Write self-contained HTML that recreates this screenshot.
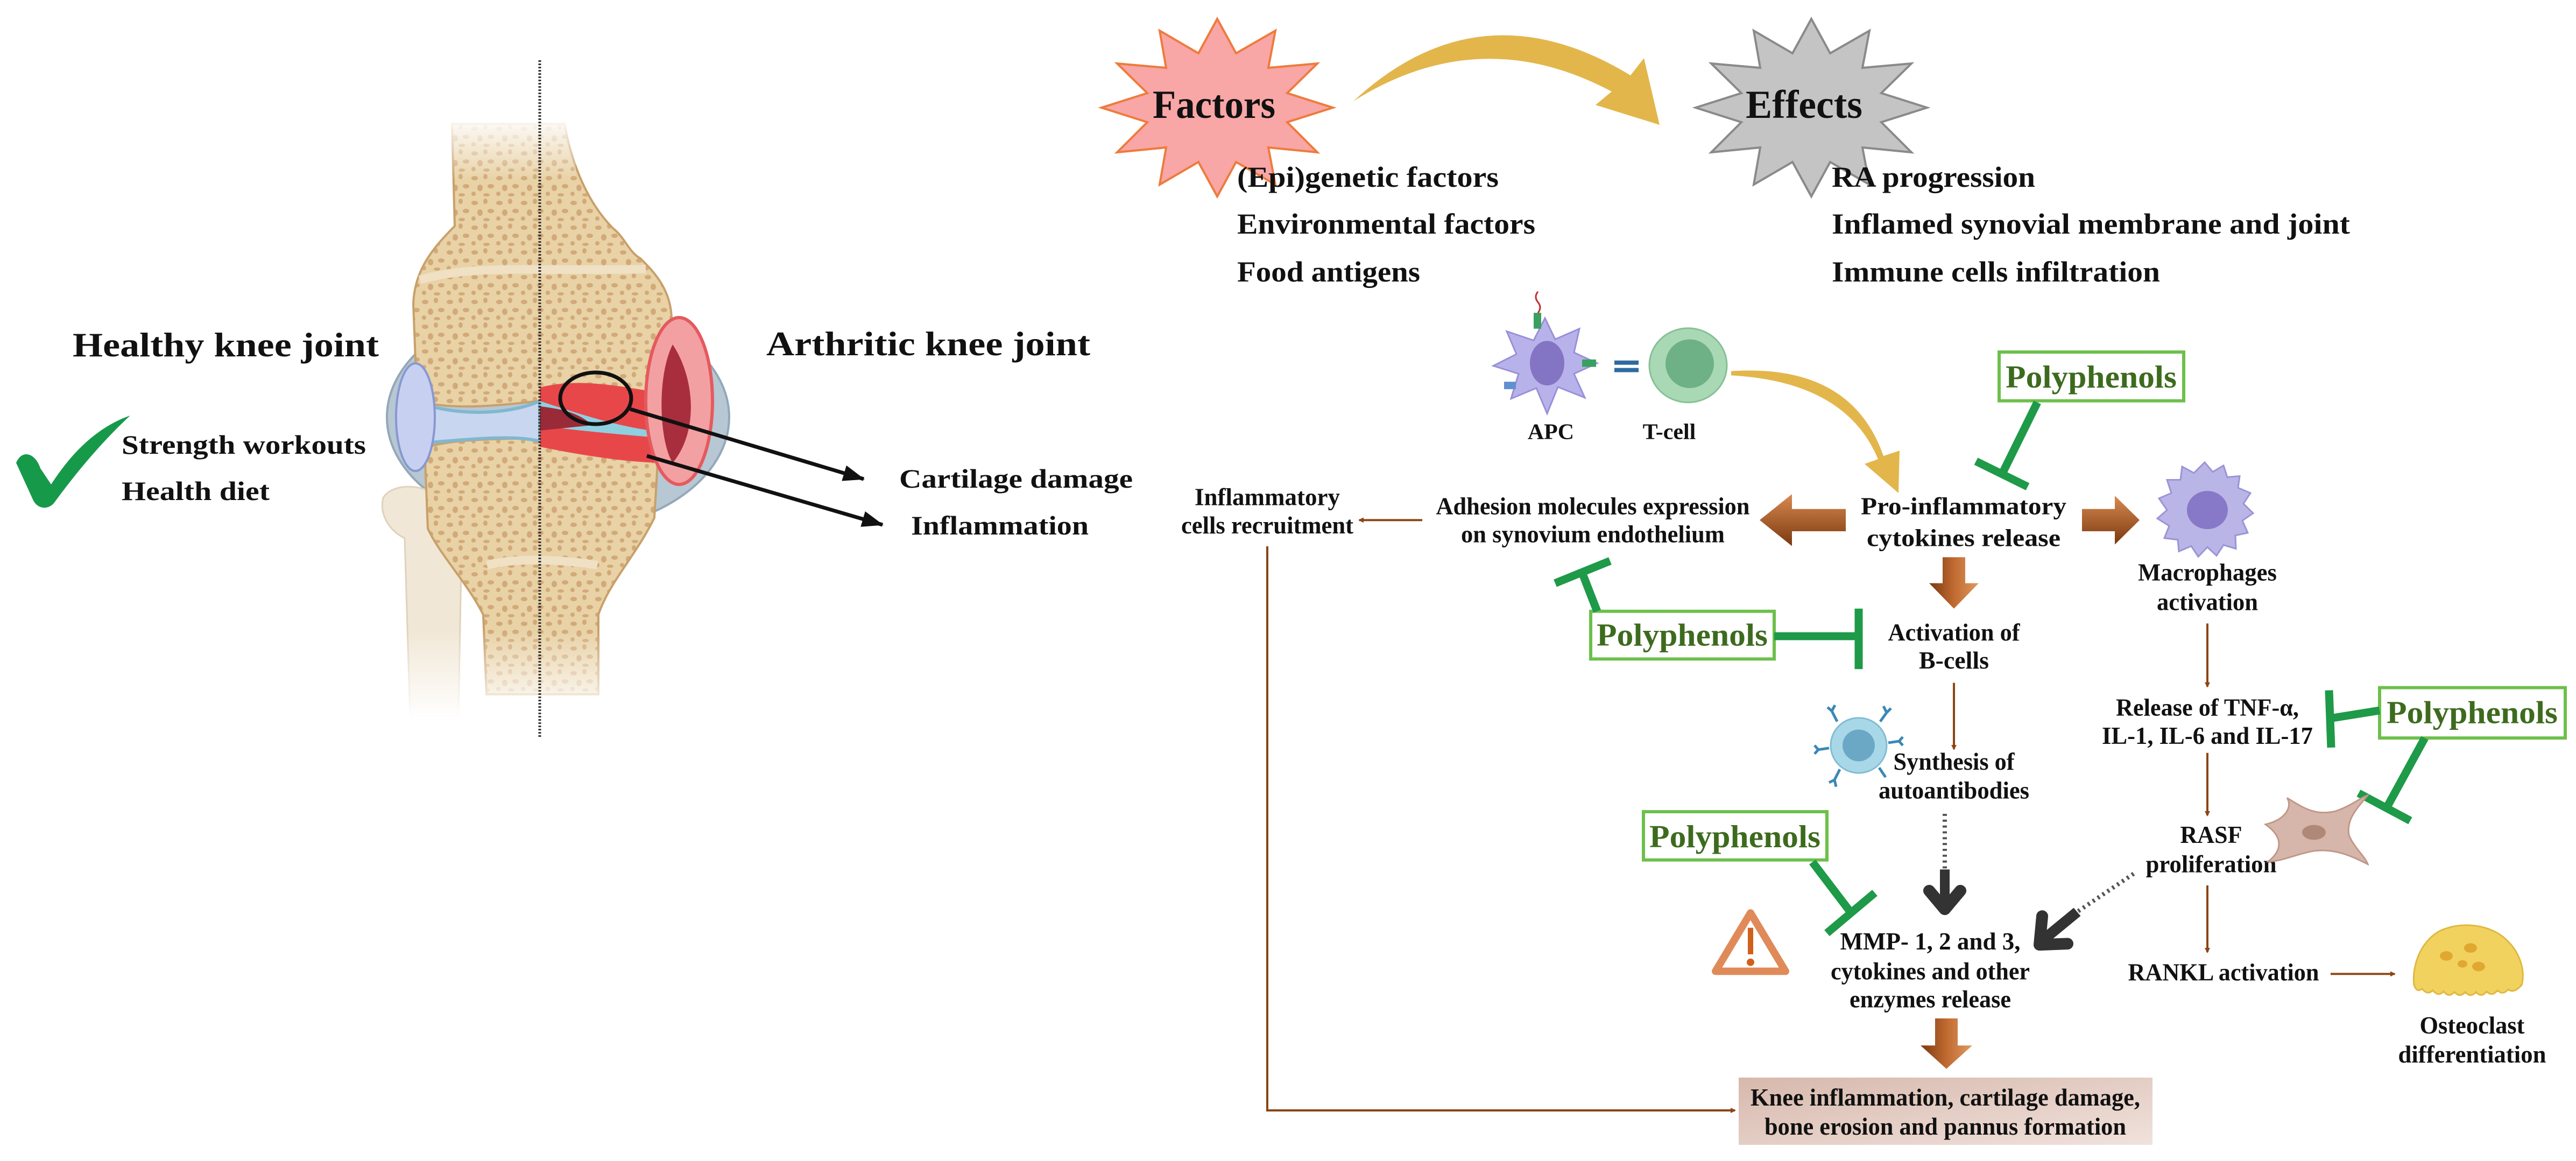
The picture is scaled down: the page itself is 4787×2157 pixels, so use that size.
<!DOCTYPE html>
<html><head><meta charset="utf-8"><style>
html,body{margin:0;padding:0;background:#fff;}
svg{display:block;}
text{font-family:"Liberation Serif",serif;font-weight:bold;fill:#111;}
.g{fill:#3d6b1e;}
</style></head><body>
<svg width="4787" height="2157" viewBox="0 0 4787 2157" xmlns="http://www.w3.org/2000/svg">
<defs>
<pattern id="dots" width="46" height="46" patternUnits="userSpaceOnUse">
<rect width="46" height="46" fill="#e8d2a6"/>
<ellipse cx="8" cy="9" rx="6" ry="4" fill="#d2a978"/>
<ellipse cx="28" cy="6" rx="4" ry="5" fill="#d2a978"/>
<ellipse cx="38" cy="24" rx="6" ry="4" fill="#d2a978"/>
<ellipse cx="18" cy="27" rx="5" ry="6" fill="#d2a978"/>
<ellipse cx="6" cy="38" rx="4" ry="4" fill="#d2a978"/>
<ellipse cx="30" cy="40" rx="6" ry="3" fill="#d2a978"/>
</pattern>
<linearGradient id="fadeTop" x1="0" y1="0" x2="0" y2="1"><stop offset="0" stop-color="#fff" stop-opacity="1"/><stop offset="1" stop-color="#fff" stop-opacity="0"/></linearGradient>
<linearGradient id="fadeBot" x1="0" y1="0" x2="0" y2="1"><stop offset="0" stop-color="#fff" stop-opacity="0"/><stop offset="1" stop-color="#fff" stop-opacity="1"/></linearGradient>
<linearGradient id="brH" x1="0" y1="0" x2="0" y2="1"><stop offset="0" stop-color="#d88a50"/><stop offset="1" stop-color="#7a3810"/></linearGradient>
<linearGradient id="brV" x1="0" y1="0" x2="1" y2="0"><stop offset="0" stop-color="#7a3810"/><stop offset="0.5" stop-color="#c06a30"/><stop offset="1" stop-color="#e09a60"/></linearGradient>
<linearGradient id="boxg" x1="0" y1="0" x2="1" y2="1"><stop offset="0" stop-color="#d7b8ac"/><stop offset="1" stop-color="#f0e2dc"/></linearGradient>
<marker id="ab" markerWidth="10" markerHeight="10" refX="8" refY="5" orient="auto" markerUnits="userSpaceOnUse" viewBox="0 0 10 10"><path d="M0,0 L10,5 L0,10 Z" fill="#8b4513"/></marker>
<marker id="ak" markerWidth="40" markerHeight="30" refX="38" refY="15" orient="auto" markerUnits="userSpaceOnUse"><path d="M0,0 L40,15 L0,30 Z" fill="#111"/></marker>
</defs>

<!-- ===== KNEE ===== -->
<ellipse cx="1037" cy="775" rx="318" ry="212" fill="#b7c7d3" stroke="#93a8b8" stroke-width="4"/>
<path d="M712,925 C730,895 795,898 822,930 L858,1000 L852,1330 L762,1330 L752,1000 C722,985 705,955 712,925 Z" fill="#f1e7d6" stroke="#e0d2bc" stroke-width="3"/>
<path d="M840,230 L845,420 C800,465 770,505 768,565 L775,745 C850,765 950,750 1003,745 C1080,738 1180,765 1242,750 L1248,600 C1250,540 1215,505 1190,480 C1170,470 1160,440 1140,425 C1100,385 1065,320 1049,230 Z" fill="url(#dots)" stroke="#c9a06a" stroke-width="4"/>
<path d="M780,520 C880,490 1000,505 1200,500" fill="none" stroke="#f0e0c4" stroke-width="16"/>
<path d="M789,832 C850,812 950,818 1003,812 C1080,806 1180,832 1224,826 L1216,962 C1182,1032 1132,1082 1112,1142 L1112,1290 L904,1290 L898,1142 C868,1082 818,1032 795,982 Z" fill="url(#dots)" stroke="#c9a06a" stroke-width="4"/>
<path d="M905,1050 C960,1035 1050,1040 1110,1050" fill="none" stroke="#f0e0c4" stroke-width="16"/>
<path d="M800,755 C880,775 960,765 1003,745 L1003,820 C960,808 880,815 800,822 Z" fill="#c9d6f0" stroke="#7fb8d0" stroke-width="6"/>
<ellipse cx="772" cy="775" rx="36" ry="100" fill="#c8d0f2" stroke="#8898d0" stroke-width="4"/>
<path d="M1003,720 C1080,700 1160,720 1230,730 L1240,860 C1180,860 1100,850 1003,830 Z" fill="#e8474a"/>
<path d="M1003,745 C1080,770 1140,790 1210,800 L1210,812 C1130,805 1070,800 1003,790 Z" fill="#8ed0e0"/>
<path d="M1003,755 C1050,760 1080,770 1100,790 L1003,800 Z" fill="#9a2a38"/>
<ellipse cx="1262" cy="745" rx="62" ry="155" fill="#f3a0a2" stroke="#e45a5e" stroke-width="6"/>
<path d="M1250,640 C1290,700 1300,800 1250,860 C1225,820 1220,700 1250,640 Z" fill="#a82e3e"/>
<rect x="690" y="215" width="380" height="120" fill="url(#fadeTop)"/>
<rect x="690" y="1170" width="440" height="165" fill="url(#fadeBot)"/>
<line x1="1003" y1="112" x2="1003" y2="1370" stroke="#333" stroke-width="5" stroke-dasharray="3 3"/>
<ellipse cx="1107" cy="740" rx="66" ry="48" fill="none" stroke="#111" stroke-width="7"/>
<line x1="1171" y1="760" x2="1605" y2="890" stroke="#111" stroke-width="7" marker-end="url(#ak)"/>
<line x1="1202" y1="847" x2="1640" y2="975" stroke="#111" stroke-width="7" marker-end="url(#ak)"/>
<path d="M30,860 C40,835 65,840 75,870 L95,900 C140,830 190,790 242,772 C190,820 140,880 100,935 C88,948 70,945 62,930 Z" fill="#17994a"/>

<text x="135" y="662" font-size="64" textLength="569" lengthAdjust="spacingAndGlyphs">Healthy knee joint</text>
<text x="1424" y="660" font-size="64" textLength="602" lengthAdjust="spacingAndGlyphs">Arthritic knee joint</text>
<text x="226" y="843" font-size="50" textLength="454" lengthAdjust="spacingAndGlyphs">Strength workouts</text>
<text x="226" y="929" font-size="50" textLength="275" lengthAdjust="spacingAndGlyphs">Health diet</text>
<text x="1671" y="906" font-size="50" textLength="434" lengthAdjust="spacingAndGlyphs">Cartilage damage</text>
<text x="1693" y="993" font-size="50" textLength="330" lengthAdjust="spacingAndGlyphs">Inflammation</text>

<!-- ===== TOP ===== -->
<polygon points="2477,200 2392,227 2448,283 2357,274 2370,343 2297,301 2262,365 2227,301 2155,343 2167,274 2076,283 2132,227 2047,200 2132,173 2076,118 2167,126 2155,57 2227,99 2262,35 2297,99 2370,57 2357,126 2448,118 2392,173" fill="#f8a6a6" stroke="#ee7b3c" stroke-width="4"/>
<polygon transform="translate(1104,0)" points="2477,200 2392,227 2448,283 2357,274 2370,343 2297,301 2262,365 2227,301 2155,343 2167,274 2076,283 2132,227 2047,200 2132,173 2076,118 2167,126 2155,57 2227,99 2262,35 2297,99 2370,57 2357,126 2448,118 2392,173" fill="#c4c4c4" stroke="#8a8a8a" stroke-width="4"/>
<text x="2142" y="219" font-size="74" textLength="228" lengthAdjust="spacingAndGlyphs">Factors</text>
<text x="3244" y="219" font-size="74" textLength="217" lengthAdjust="spacingAndGlyphs">Effects</text>
<path d="M2515,188 Q2750,-30 3030,140 L3055,108 L3084,232 L2965,195 L2995,170 Q2750,40 2515,188 Z" fill="#e3b64c"/>

<text x="2299" y="347" font-size="54" textLength="486" lengthAdjust="spacingAndGlyphs">(Epi)genetic factors</text>
<text x="2299" y="434" font-size="54" textLength="554" lengthAdjust="spacingAndGlyphs">Environmental factors</text>
<text x="2299" y="523" font-size="54" textLength="340" lengthAdjust="spacingAndGlyphs">Food antigens</text>
<text x="3404" y="347" font-size="54" textLength="378" lengthAdjust="spacingAndGlyphs">RA progression</text>
<text x="3404" y="434" font-size="54" textLength="963" lengthAdjust="spacingAndGlyphs">Inflamed synovial membrane and joint</text>
<text x="3404" y="523" font-size="54" textLength="610" lengthAdjust="spacingAndGlyphs">Immune cells infiltration</text>

<g transform="matrix(1,0,0,0.985,0,0)">
<path d="M2871,600 L2890,640 L2935,620 L2925,665 L2968,685 L2925,705 L2945,750 L2895,730 L2875,780 L2855,732 L2808,752 L2822,705 L2775,690 L2818,668 L2800,625 L2850,642 Z" fill="#b8b2ea" stroke="#9890d8" stroke-width="3"/>
<ellipse cx="2875" cy="685" rx="32" ry="42" fill="#8474c4"/>
<rect x="2850" y="590" width="14" height="30" fill="#3aa060"/><path d="M2858,590 q8,-10 0,-20 q-8,-10 0,-20" fill="none" stroke="#c03030" stroke-width="3"/>
<rect x="2940" y="678" width="26" height="14" fill="#3aa060"/>
<rect x="2795" y="720" width="22" height="14" fill="#6090d0"/>
<rect x="3000" y="680" width="45" height="8" fill="#2e6aa0"/><rect x="3000" y="694" width="45" height="8" fill="#2e6aa0"/>
<ellipse cx="3137" cy="689" rx="72" ry="70" fill="#a9d9b4" stroke="#86c096" stroke-width="3"/>
<ellipse cx="3140" cy="686" rx="45" ry="46" fill="#6fb187"/>
<text x="2882" y="828" font-size="42" text-anchor="middle">APC</text>
<text x="3102" y="828" font-size="42" text-anchor="middle">T-cell</text>
<path d="M3217,700 Q3440,685 3500,860 L3530,850 L3528,930 L3465,875 L3490,866 Q3430,720 3217,708 Z" fill="#e3b64c"/>

<g stroke="#6cc04a" stroke-width="6" fill="#fff">
<rect x="3715" y="664" width="343" height="92"/>
<rect x="2956" y="1153" width="341" height="90"/>
<rect x="4422" y="1297" width="345" height="95"/>
<rect x="3054" y="1531" width="341" height="91"/>
</g>
<text class="g" x="3886" y="731" font-size="60" text-anchor="middle" textLength="318" lengthAdjust="spacingAndGlyphs">Polyphenols</text>
<text class="g" x="3126" y="1218" font-size="60" text-anchor="middle" textLength="318" lengthAdjust="spacingAndGlyphs">Polyphenols</text>
<text class="g" x="4594" y="1364" font-size="60" text-anchor="middle" textLength="318" lengthAdjust="spacingAndGlyphs">Polyphenols</text>
<text class="g" x="3224" y="1598" font-size="60" text-anchor="middle" textLength="318" lengthAdjust="spacingAndGlyphs">Polyphenols</text>

<g stroke="#1e9a48" stroke-width="15" fill="none">
<line x1="3786" y1="759" x2="3720" y2="895"/><line x1="3672" y1="870" x2="3768" y2="918"/>
<line x1="2968" y1="1153" x2="2940" y2="1080"/><line x1="2890" y1="1100" x2="2992" y2="1058"/>
<line x1="3297" y1="1200" x2="3454" y2="1200"/><line x1="3454" y1="1148" x2="3454" y2="1262"/>
<line x1="4422" y1="1340" x2="4330" y2="1355"/><line x1="4328" y1="1302" x2="4332" y2="1410"/>
<line x1="4506" y1="1392" x2="4436" y2="1522"/><line x1="4383" y1="1496" x2="4479" y2="1548"/>
<line x1="3368" y1="1626" x2="3440" y2="1722"/><line x1="3395" y1="1760" x2="3484" y2="1684"/>
</g>

<g font-size="46" text-anchor="middle">
<text x="3649" y="970" textLength="382" lengthAdjust="spacingAndGlyphs">Pro-inflammatory</text>
<text x="3649" y="1030" textLength="360" lengthAdjust="spacingAndGlyphs">cytokines release</text>
<text x="2960" y="970" textLength="583" lengthAdjust="spacingAndGlyphs">Adhesion molecules expression</text>
<text x="2960" y="1023" textLength="490" lengthAdjust="spacingAndGlyphs">on synovium endothelium</text>
<text x="2355" y="953" textLength="270" lengthAdjust="spacingAndGlyphs">Inflammatory</text>
<text x="2355" y="1006" textLength="320" lengthAdjust="spacingAndGlyphs">cells recruitment</text>
<text x="4102" y="1095" textLength="258" lengthAdjust="spacingAndGlyphs">Macrophages</text>
<text x="4102" y="1151" textLength="188" lengthAdjust="spacingAndGlyphs">activation</text>
<text x="3631" y="1208" textLength="245" lengthAdjust="spacingAndGlyphs">Activation of</text>
<text x="3631" y="1261" textLength="130" lengthAdjust="spacingAndGlyphs">B-cells</text>
<text x="3631" y="1452" textLength="225" lengthAdjust="spacingAndGlyphs">Synthesis of</text>
<text x="3631" y="1506" textLength="280" lengthAdjust="spacingAndGlyphs">autoantibodies</text>
<text x="4102" y="1350" textLength="340" lengthAdjust="spacingAndGlyphs">Release of TNF-α,</text>
<text x="4102" y="1403" textLength="392" lengthAdjust="spacingAndGlyphs">IL-1, IL-6 and IL-17</text>
<text x="4109" y="1590" textLength="115" lengthAdjust="spacingAndGlyphs">RASF</text>
<text x="4109" y="1645" textLength="243" lengthAdjust="spacingAndGlyphs">proliferation</text>
<text x="4132" y="1849" textLength="355" lengthAdjust="spacingAndGlyphs">RANKL activation</text>
<text x="4594" y="1949" textLength="195" lengthAdjust="spacingAndGlyphs">Osteoclast</text>
<text x="4594" y="2004" textLength="275" lengthAdjust="spacingAndGlyphs">differentiation</text>
<text x="3587" y="1791" textLength="335" lengthAdjust="spacingAndGlyphs">MMP- 1, 2 and 3,</text>
<text x="3587" y="1847" textLength="370" lengthAdjust="spacingAndGlyphs">cytokines and other</text>
<text x="3587" y="1900" textLength="300" lengthAdjust="spacingAndGlyphs">enzymes release</text>
</g>

<path d="M3430,960 L3330,960 L3330,932 L3270,981 L3330,1030 L3330,1002 L3430,1002 Z" fill="url(#brH)"/>
<path d="M3869,960 L3930,960 L3930,935 L3976,981 L3930,1027 L3930,1002 L3869,1002 Z" fill="url(#brH)"/>
<path d="M3610,1051 L3652,1051 L3652,1100 L3677,1100 L3631,1148 L3585,1100 L3610,1100 Z" fill="url(#brV)"/>
<path d="M3596,1921 L3638,1921 L3638,1972 L3665,1972 L3617,2016 L3569,1972 L3596,1972 Z" fill="url(#brV)"/>

<g stroke="#8b4513" stroke-width="4" fill="none" marker-end="url(#ab)">
<line x1="2643" y1="981" x2="2526" y2="981"/>
<line x1="4102" y1="1176" x2="4102" y2="1295"/>
<line x1="4102" y1="1420" x2="4102" y2="1538"/>
<line x1="4102" y1="1670" x2="4102" y2="1796"/>
<line x1="4331" y1="1837" x2="4450" y2="1837"/>
<line x1="3631" y1="1288" x2="3631" y2="1413"/>
</g>

<line x1="3614" y1="1535" x2="3614" y2="1640" stroke="#555" stroke-width="8" stroke-dasharray="4 7"/>
<line x1="3614" y1="1640" x2="3614" y2="1700" stroke="#333" stroke-width="18"/>
<polyline points="3585,1680 3614,1715 3643,1680" fill="none" stroke="#333" stroke-width="22" stroke-linejoin="round" stroke-linecap="round"/>
<line x1="3965" y1="1648" x2="3860" y2="1720" stroke="#555" stroke-width="8" stroke-dasharray="4 7"/>
<line x1="3860" y1="1720" x2="3800" y2="1770" stroke="#333" stroke-width="20"/>
<polyline points="3795,1728 3790,1782 3842,1780" fill="none" stroke="#333" stroke-width="22" stroke-linejoin="round" stroke-linecap="round"/>

<path d="M3253,1722 L3318,1832 L3188,1832 Z" fill="#fff" stroke="#e08a5a" stroke-width="14" stroke-linejoin="round"/>
<rect x="3248" y="1750" width="10" height="50" fill="#d0601c"/><circle cx="3253" cy="1815" r="7" fill="#d0601c"/>

<g transform="translate(4097,960)">
<path d="M0,-88 L15,-70 L35,-82 L42,-60 L65,-62 L62,-40 L85,-30 L72,-10 L90,8 L70,22 L80,45 L57,50 L58,75 L35,68 L22,88 L5,72 L-12,90 L-25,70 L-48,80 L-50,58 L-75,55 L-66,32 L-88,18 L-70,2 L-85,-20 L-62,-30 L-70,-55 L-45,-55 L-42,-80 L-20,-68 Z" fill="#b9b5e6" stroke="#9a94d6" stroke-width="3"/>
<ellipse cx="5" cy="2" rx="38" ry="36" fill="#8878c8"/>
</g>
<g transform="translate(3454,1406)">
<circle r="52" fill="#a8d8e8" stroke="#82bcd4" stroke-width="3"/>
<circle r="30" fill="#6aa8c6"/>
<g stroke="#3a88b8" stroke-width="5" fill="none">
<path d="M-40,-45 L-50,-65 M-50,-65 L-58,-72 M-50,-65 L-44,-76"/>
<path d="M40,-45 L52,-62 M52,-62 L60,-70 M52,-62 L46,-74"/>
<path d="M-55,5 L-75,8 M-75,8 L-82,0 M-75,8 L-82,16"/>
<path d="M55,-5 L75,-8 M75,-8 L82,-16 M75,-8 L82,0"/>
<path d="M-35,45 L-45,65 M-45,65 L-55,70 M-45,65 L-42,78"/>
<path d="M38,42 L50,60"/>
</g>
</g>
<path d="M4210,1555 C4250,1545 4260,1520 4250,1505 C4275,1520 4300,1540 4340,1530 C4370,1520 4385,1505 4400,1500 C4380,1525 4360,1545 4365,1575 C4375,1600 4395,1615 4400,1630 C4370,1615 4340,1600 4300,1605 C4270,1610 4240,1625 4215,1625 C4240,1605 4245,1580 4210,1555 Z" fill="#d6b6aa" stroke="#c09888" stroke-width="3"/>
<ellipse cx="4300" cy="1570" rx="22" ry="14" fill="#b08878"/>
<g transform="translate(4586,1823)">
<path d="M-100,35 C-105,-10 -80,-60 -40,-72 C-10,-82 30,-80 60,-60 C95,-35 108,5 100,35 C60,55 -60,55 -100,35 Z" fill="#f2d25e" stroke="#e0b840" stroke-width="3"/>
<path d="M-100,35 Q-95,50 -85,42 Q-75,55 -65,45 Q-55,58 -45,47 Q-35,60 -25,48 Q-15,60 -5,48 Q5,60 15,48 Q25,60 35,47 Q45,58 55,45 Q65,55 75,43 Q85,52 100,35" fill="#f2d25e" stroke="#e0b840" stroke-width="3"/>
<ellipse cx="-40" cy="-20" rx="12" ry="9" fill="#e0a830"/>
<ellipse cx="5" cy="-35" rx="12" ry="9" fill="#e0a830"/>
<ellipse cx="20" cy="0" rx="12" ry="9" fill="#e0a830"/>
<ellipse cx="-10" cy="-5" rx="9" ry="7" fill="#e0a830"/>
</g>
</g>

<!-- bottom box & long connector (unscaled) -->
<polyline points="2355,1015 2355,2063 3224,2063" stroke="#8b4513" stroke-width="4" fill="none" marker-end="url(#ab)"/>
<rect x="3231" y="2002" width="769" height="125" fill="url(#boxg)"/>
<text x="3615" y="2054" font-size="46" text-anchor="middle" textLength="724" lengthAdjust="spacingAndGlyphs">Knee inflammation, cartilage damage,</text>
<text x="3615" y="2108" font-size="46" text-anchor="middle" textLength="672" lengthAdjust="spacingAndGlyphs">bone erosion and pannus formation</text>
</svg>
</body></html>
